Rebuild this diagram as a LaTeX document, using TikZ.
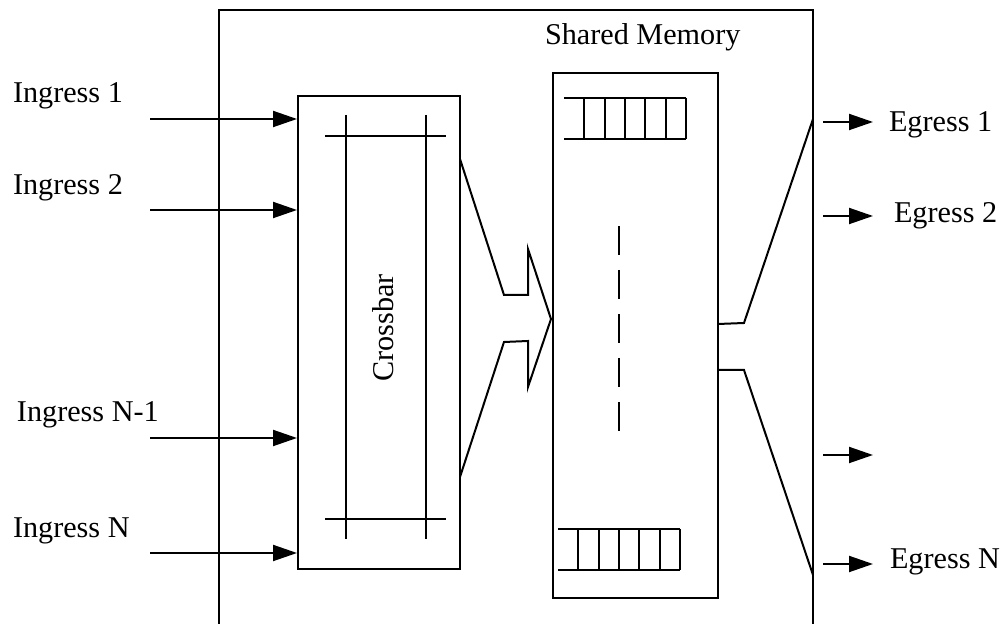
\documentclass[tikz,border=0pt]{standalone}
\usepackage{fontspec}
\setmainfont{Liberation Serif}
\usetikzlibrary{arrows.meta}

\tikzset{
  port/.style={-{Triangle[length=12pt,width=8pt]}},
  lbl/.style={font=\fontsize{15.1}{18}\selectfont, inner sep=0pt, anchor=base west},
  unitbox/.style={draw, inner sep=0pt}
}

\begin{document}
\begin{tikzpicture}[x=0.5pt,y=-0.5pt,line width=1pt]
    \useasboundingbox (0,0) rectangle (1003,624);
    \clip (0,0) rectangle (1003,624);

    % switch frame
    \draw (219,10) rectangle (813,660);

    % crossbar
    \node[unitbox, minimum width=81pt, minimum height=236.5pt] (xbar) at (379,332.5) {};
    \node[lbl, rotate=90, anchor=center] (xbarlbl) at (383,328) {Crossbar};
    \draw (346,115) -- (346,539);
    \draw (426,115) -- (426,539);
    \draw (325,136) -- (446,136);
    \draw (325,519) -- (446,519);

    % shared memory
    \node[unitbox, minimum width=82.5pt, minimum height=262.5pt] (shm) at (635.5,335.5) {};
    \node[lbl] (shmlbl) at (544,45) {Shared Memory};
    \draw (564,98) -- (686,98);
    \draw (564,139) -- (686,139);
    \foreach \i in {1,...,6}
      \draw (564+20.33*\i,98) -- (564+20.33*\i,139);
    \draw (558,529) -- (680,529);
    \draw (558,570) -- (680,570);
    \foreach \i in {1,...,6}
      \draw (558+20.33*\i,529) -- (558+20.33*\i,570);
    \draw[dash pattern=on 14.5pt off 7.5pt] (619,226) -- (619,431);

    % crossbar to memory
    \draw (460,159) -- (504,295) -- (528,295) -- (528,249) -- (551,319)
      -- (528,387) -- (528,341) -- (504,342) -- (460,477);

    % memory to egress ports
    \draw (718,324) -- (744,323) -- (813,119);
    \draw (718,370) -- (744,370) -- (813,575);

    % ingress ports
    \foreach \y/\n in {119/1, 210/2, 438/3, 553/4} {
      \coordinate (in\n) at (150,\y);
      \draw[port] (in\n) -- (xbar.west |- in\n);
    }
    \node[lbl] (inlbl1) at (12,103) {Ingress 1};
    \node[lbl] (inlbl2) at (12,195) {Ingress 2};
    \node[lbl] (inlbl3) at (16,422) {Ingress N-1};
    \node[lbl] (inlbl4) at (12,538) {Ingress N};

    % egress ports
    \foreach \y/\n in {122/1, 216/2, 455/3, 564/4} {
      \coordinate (out\n) at (823,\y);
      \draw[port] (out\n) -- ++(50,0);
    }
    \node[lbl] (outlbl1) at (888,132) {Egress 1};
    \node[lbl] (outlbl2) at (893,223) {Egress 2};
    \node[lbl] (outlbl4) at (889,569) {Egress N};
\end{tikzpicture}
\end{document}
